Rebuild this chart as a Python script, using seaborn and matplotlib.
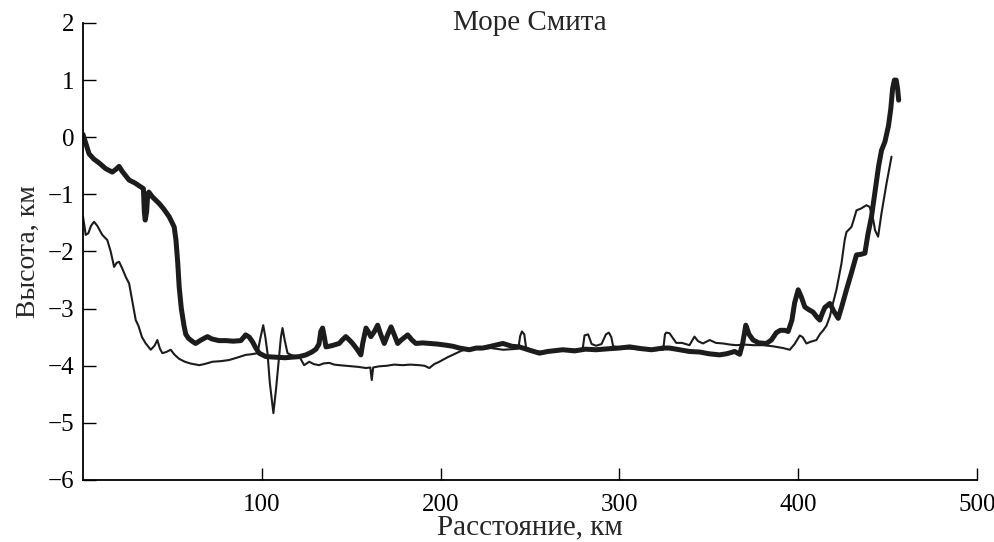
import matplotlib
matplotlib.use("Agg")
import matplotlib.pyplot as plt
import seaborn as sns
import pandas as pd

# Bottom profile across the Smith Sea: distance (km) and height (km)
bold_km = [0, 1, 3.4, 6, 9, 12.7, 16.4, 18.5, 20.2, 22, 25.8, 29, 32.3, 33.8, 34.3, 34.8, 35.6,
           36.2, 36.8, 39, 42.6, 45, 48.2, 51, 52, 53, 53.8, 55, 56.5, 57.5, 59, 61, 63, 66, 69.6,
           72, 76, 80, 84, 88.3, 91, 93, 94.8, 96.5, 98.5, 102.3, 108, 113, 117, 121, 124.7, 128,
           130.3, 132, 133, 134, 135, 135.9, 139, 143.3, 145, 147, 149, 150.8, 153, 155.4, 156.5,
           158.3, 159.5, 161, 163, 164.8, 166.5, 168.5, 170.5, 172.3, 174, 176, 178, 181.6, 184,
           186.2, 190, 193.7, 198, 203, 207, 210.5, 216, 220, 223.6, 228, 234.8, 240, 244, 250,
           255.3, 260, 268.4, 275, 281, 287, 295, 300, 305.7, 312, 318, 324.4, 328, 333.7, 339.2,
           345, 350, 356, 360, 364.5, 367.3, 369, 370.7, 372.5, 374.8, 378, 382.2, 385, 387.8, 390,
           392.5, 394.4, 396.5, 398, 400, 401.8, 403.7, 406, 408.3, 410.5, 412.1, 413.5, 414.9,
           417.7, 420, 422.4, 424.5, 427, 430, 432.6, 435, 437.3, 439, 441, 443, 445, 446.6,
           448.5, 450.5, 451.8, 452.8, 453.8, 454.8, 455.6, 456.2]
bold_h = [0.05, -0.05, -0.29, -0.38, -0.45, -0.55, -0.61, -0.56, -0.51, -0.6, -0.75, -0.8, -0.87,
          -0.9, -1.3, -1.45, -1.3, -1.0, -0.96, -1.05, -1.16, -1.25, -1.39, -1.57, -1.8, -2.2,
          -2.62, -3.0, -3.3, -3.45, -3.52, -3.57, -3.61, -3.55, -3.49, -3.53, -3.56, -3.56, -3.57,
          -3.56, -3.46, -3.5, -3.58, -3.68, -3.78, -3.84, -3.85, -3.86, -3.85, -3.84, -3.81, -3.76,
          -3.71, -3.62, -3.4, -3.34, -3.5, -3.67, -3.65, -3.61, -3.55, -3.49, -3.55, -3.61, -3.7,
          -3.81, -3.6, -3.34, -3.4, -3.49, -3.4, -3.29, -3.45, -3.61, -3.45, -3.32, -3.45, -3.61,
          -3.55, -3.46, -3.55, -3.61, -3.6, -3.61, -3.62, -3.64, -3.66, -3.69, -3.72, -3.69, -3.69,
          -3.66, -3.61, -3.66, -3.67, -3.73, -3.78, -3.75, -3.72, -3.74, -3.71, -3.72, -3.7, -3.69,
          -3.67, -3.7, -3.72, -3.69, -3.69, -3.72, -3.75, -3.76, -3.79, -3.81, -3.79, -3.75, -3.8,
          -3.6, -3.29, -3.45, -3.55, -3.6, -3.61, -3.55, -3.42, -3.38, -3.38, -3.4, -3.2, -2.9,
          -2.67, -2.8, -2.97, -3.02, -3.06, -3.15, -3.2, -3.08, -2.98, -2.91, -3.05, -3.17, -2.95,
          -2.67, -2.35, -2.06, -2.05, -2.03, -1.7, -1.39, -0.95, -0.5, -0.23, -0.08, 0.2, 0.5,
          0.85, 1.0, 1.0, 0.85, 0.65]

thin_km = [0, 0.8, 1.5, 3, 4.5, 6.2, 8, 10.8, 13.6, 15.5, 17.4, 18.8, 20.2, 22, 24, 25.8, 27.5,
           29.5, 31, 33, 35.1, 37.9, 40, 41.6, 43, 44.4, 46.5, 49.1, 51, 53.8, 57, 60, 65, 68, 72.4,
           77, 81.7, 86, 91, 94, 97.6, 99, 100.8, 102, 103.2, 104.5, 106.5, 108, 109.7, 110.7,
           111.6, 112.8, 114.4, 117, 121, 123.7, 126.5, 129, 132, 134.5, 137.7, 140.5, 143.3, 147,
           150.8, 154, 158.3, 160.7, 161.5, 162.3, 165.7, 170, 174, 178.8, 183, 188, 191, 193.7,
           196.5, 199.3, 204, 208.7, 211.5, 214.3, 218, 222, 228, 235, 240, 243.5, 244.5, 245.5,
           246.8, 247.8, 252, 258, 264, 270, 276, 279.5, 280.5, 282.5, 284.5, 287, 290, 292.5,
           294.1, 295.5, 296.5, 302, 310, 318, 324.5, 325.5, 326.2, 328, 330, 331.8, 335, 339.2,
           342, 344, 346.7, 350.5, 354, 358, 362, 365.4, 370, 375, 380.3, 386, 391.5, 395.3, 398,
           400.9, 402.5, 404.6, 407, 410.2, 412.1, 414, 415.8, 417.7, 419.5, 421.4, 424.2, 426, 427,
           429.8, 431, 432.6, 435, 438.2, 440, 442, 443, 444.7, 445.6, 446.6, 449.4, 452.2]
thin_h = [-1.39, -1.55, -1.71, -1.68, -1.55, -1.48, -1.55, -1.71, -1.8, -2.0, -2.27, -2.2, -2.18,
          -2.3, -2.45, -2.56, -2.85, -3.2, -3.3, -3.5, -3.61, -3.72, -3.65, -3.55, -3.7, -3.78,
          -3.76, -3.72, -3.8, -3.88, -3.93, -3.96, -3.99, -3.97, -3.93, -3.92, -3.9, -3.86, -3.81,
          -3.8, -3.78, -3.55, -3.29, -3.5, -3.78, -4.3, -4.83, -4.4, -3.84, -3.5, -3.34, -3.55,
          -3.78, -3.82, -3.84, -3.99, -3.93, -3.97, -3.99, -3.96, -3.95, -3.98, -3.99, -4.0, -4.01,
          -4.02, -4.04, -4.03, -4.25, -4.03, -4.01, -4.0, -3.98, -3.99, -3.98, -3.99, -4.0, -4.04,
          -3.97, -3.93, -3.85, -3.78, -3.74, -3.71, -3.7, -3.71, -3.69, -3.72, -3.71, -3.7, -3.48,
          -3.4, -3.45, -3.68, -3.74, -3.76, -3.73, -3.71, -3.72, -3.7, -3.47, -3.45, -3.62, -3.65,
          -3.62, -3.45, -3.42, -3.5, -3.66, -3.69, -3.71, -3.73, -3.72, -3.45, -3.42, -3.43, -3.52,
          -3.6, -3.6, -3.64, -3.49, -3.57, -3.61, -3.55, -3.6, -3.61, -3.63, -3.64, -3.63, -3.64,
          -3.64, -3.66, -3.69, -3.72, -3.62, -3.47, -3.5, -3.61, -3.58, -3.55, -3.45, -3.38, -3.3,
          -3.14, -2.9, -2.67, -2.21, -1.8, -1.66, -1.57, -1.45, -1.28, -1.25, -1.19, -1.22, -1.45,
          -1.63, -1.74, -1.55, -1.33, -0.81, -0.34]

x_ticks = [100, 200, 300, 400, 500]
y_ticks = [-6, -5, -4, -3, -2, -1, 0, 1, 2]

sns.set_style("ticks")
plt.rcParams["font.family"] = ["Liberation Serif", "DejaVu Serif"]
plt.rcParams["axes.unicode_minus"] = True

fig = plt.figure(figsize=(9.95, 5.42), dpi=100)
ax = fig.add_axes([0.0834, 0.1144, 0.8985, 0.8432])

bold = pd.DataFrame({"km": bold_km, "h": bold_h})
thin = pd.DataFrame({"km": thin_km, "h": thin_h})

line_col = "#1c1c1c"
sns.lineplot(data=thin, x="km", y="h", ax=ax, color=line_col, linewidth=1.5,
             estimator=None, sort=False)
sns.lineplot(data=bold, x="km", y="h", ax=ax, color=line_col, linewidth=3.6,
             estimator=None, sort=False)

ax.set_xlim(0, 500)
ax.set_ylim(-6, 2)
ax.set_xticks(x_ticks)
ax.set_yticks(y_ticks)
ax.set_yticklabels([f"\u2212{abs(v)}" if v < 0 else str(v) for v in y_ticks])

for side in ("top", "right"):
    ax.spines[side].set_visible(False)
for side in ("left", "bottom"):
    ax.spines[side].set_linewidth(1.3)
    ax.spines[side].set_color("black")

ax.tick_params(axis="both", direction="in", length=9, width=1.0, colors="black",
               labelsize=18)
ax.tick_params(axis="x", pad=10)
ax.tick_params(axis="y", pad=6)

ax.set_xlabel("Расстояние, км", fontsize=21, labelpad=-1)
ax.set_ylabel("Высота, км", fontsize=20, labelpad=5)
ax.text(0.5, 1.0, "Море Смита", transform=ax.transAxes, ha="center", va="center",
        fontsize=21)

fig.savefig("out.png", dpi=100)
